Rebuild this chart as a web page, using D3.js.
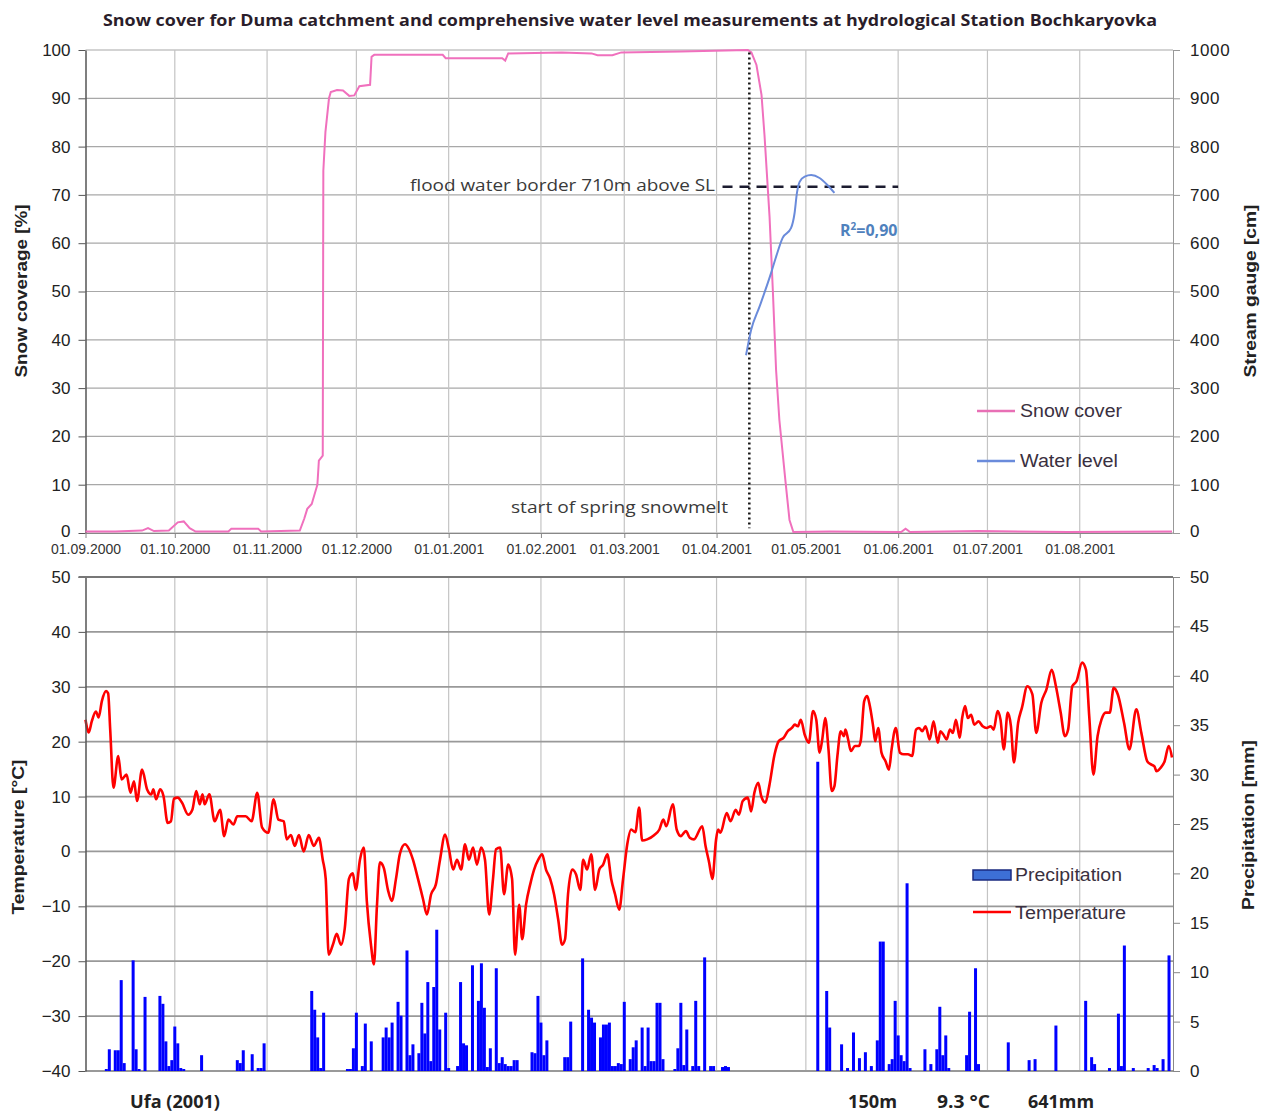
<!DOCTYPE html>
<html><head><meta charset="utf-8">
<script src="https://cdn.jsdelivr.net/npm/d3@7"></script>
<style>
body{margin:0;background:#fff}
svg text{font-family:"Liberation Sans",Arial,sans-serif}
</style>
</head><body>
<svg id="c" width="1269" height="1112"></svg>
<script>
// ---------------- DATA ----------------
const titleText = "Snow cover for Duma catchment and comprehensive water level measurements at hydrological Station Bochkaryovka";
const monthTicks = ["2000-09-01","2000-10-01","2000-11-01","2000-12-01","2001-01-01","2001-02-01","2001-03-01","2001-04-01","2001-05-01","2001-06-01","2001-07-01","2001-08-01"];
const monthLabels = ["01.09.2000","01.10.2000","01.11.2000","01.12.2000","01.01.2001","01.02.2001","01.03.2001","01.04.2001","01.05.2001","01.06.2001","01.07.2001","01.08.2001"];
const snowTicks = [0,10,20,30,40,50,60,70,80,90,100];
const gaugeTicks = [0,100,200,300,400,500,600,700,800,900,1000];
const tempTicks = [-40,-30,-20,-10,0,10,20,30,40,50];
const precipTicks = [0,5,10,15,20,25,30,35,40,45,50];

// day = days since 01.09.2000
const snowDay = [0,10,19,21,23,28,31,33,35,37,48,49,58,59,72,73.5,74.5,76,77.9,78.4,79.7,79.9,80.6,81.8,82.4,84.5,86.5,88.6,90.3,92.0,95.6,96.1,97,110,120,121,140,141,142,160,170,172,177,180,200,222.5,223.7,225.4,227.1,228.1,229.8,230.9,232.0,233.1,235.1,236.5,237.8,250,274,275.5,277,300,330,365];
const snowCover = [0.3,0.3,0.5,1.0,0.4,0.5,2.2,2.4,1.0,0.3,0.3,0.9,0.9,0.3,0.5,3.0,5.0,6.0,10,15,16,75,83,90,91.3,91.7,91.6,90.5,90.6,92.5,92.8,98.6,99.0,99.0,99.0,98.3,98.3,97.8,99.3,99.5,99.3,98.9,98.9,99.5,99.7,100,99.5,96.9,90.7,82.4,65.5,50.3,33.7,23.4,11,2.7,0.2,0.3,0.2,0.9,0.2,0.4,0.2,0.3];

const waterDay = [221.9,223.6,226.4,230.3,232.0,234.2,237.0,238.2,239.0,239.9,241.6,243.8,246.6,249.3,251.6];
const waterLevel = [368,420,468,538,572,611,631,662,704,727,738,741,735,720,704];

const tempDay = [0,1.1,2.1,3.5,4.4,5.5,6.9,7.6,8.3,9.4,11.0,12.1,13.8,15.1,16.3,17.3,19.0,20.7,22.1,22.8,23.7,25.1,26.2,27.6,28.7,29.7,31.0,32.4,34.5,35.9,37.2,38.4,39.3,40.0,41.6,43.4,45.2,46.6,48.0,49.7,51.0,53.8,55.8,57.7,59.3,61.4,63.2,64.8,66.6,67.6,
69.0,70.3,71.7,73.3,75.0,76.7,78.4,79.7,80.7,81.7,83.1,84.4,85.8,87.1,88.5,89.8,90.8,92.2,93.5,94.5,95.9,96.9,97.9,98.9,100.2,101.6,102.9,104.3,105.6,107.3,108.7,110.0,111.7,113.4,114.7,116.1,117.7,119.1,120.8,122.1,123.5,124.8,126.2,127.5,128.8,130.2,131.5,132.9,134.2,135.6,136.9,137.9,139.3,140.6,142.0,143.3,144.3,145.7,146.7,148.0,149.4,150.7,152.1,153.4,154.7,156.1,157.4,158.8,160.1,161.1,162.1,163.5,164.8,166.2,167.2,168.5,169.9,171.2,172.6,173.9,175.3,176.6,177.9,179.3,180.6,182.0,183.3,184.7,186.0,187.0,
188.7,191.1,192.8,194.1,195.1,197.3,198.6,200.0,201.7,203.0,204.4,207.2,208.3,209.5,210.6,211.8,212.5,213.3,215.4,216.7,218.4,219.5,220.8,222.5,223.6,224.7,226.0,227.0,228.4,229.7,231.5,232.9,234.5,235.9,237.3,238.3,239.3,240.3,241.6,243.0,244.4,245.5,246.6,247.5,248.5,249.6,250.7,251.6,252.6,253.7,254.8,255.3,256.2,257.1,258.5,259.8,260.5,261.6,262.6,263.5,264.6,265.3,266.3,267.4,268.8,269.9,270.8,272.2,273.6,274.9,276.3,277.7,279.0,280.0,281.1,282.2,283.6,284.9,286.3,287.2,288.2,289.3,290.4,291.4,292.4,293.7,294.5,295.5,296.4,297.5,298.6,300.0,301.4,302.7,304.1,305.1,306.4,307.4,308.5,309.8,310.9,311.9,313.3,314.6,316.4,318.1,319.4,321.1,322.8,324.6,326.0,327.6,329.0,330.1,331.5,332.9,334.8,336.1,337.2,338.6,340.0,341.3,342.7,344.1,345.4,346.8,348.9,350.7,353.0,354.7,356.7,357.8,359.1,359.8,361.1,362.5,363.9,365.0];
const tempValue = [24.0,21.7,23.7,25.5,24.4,27.4,29.2,28.8,22.2,11.6,17.4,13.1,14.0,10.7,12.8,9.2,14.9,11.3,10.4,11.3,9.5,11.3,10.1,5.2,5.5,9.6,9.8,8.9,6.7,7.6,11.0,8.6,10.4,8.6,10.4,5.5,7.6,2.8,5.8,4.9,6.4,6.4,5.5,10.7,4.4,3.4,9.5,5.8,5.5,2.2,
3.0,1.0,3.0,0.0,3.0,1.0,2.5,-1.5,-5.0,-18.8,-17.0,-15.0,-17.0,-14.0,-5.0,-4.0,-7.0,-1.5,0.7,-9.0,-17.0,-20.6,-10.0,-2.0,-3.0,-7.0,-9.0,-5.0,-0.5,1.3,0.4,-1.5,-5.0,-8.7,-11.5,-7.8,-6.0,-1.5,3.1,0.4,-3.3,-1.5,-3.3,1.3,-1.5,0.7,-2.4,0.7,-1.5,-11.5,-5.0,0.4,0.7,-7.8,-2.4,-5.0,-18.8,-9.7,-16.0,-9.7,-6.0,-3.3,-1.5,-0.5,-3.3,-5.0,-7.8,-12.4,-17.0,-16.0,-7.8,-3.3,-4.2,-7.0,-1.5,-3.3,-0.5,-7.0,-3.3,-2.4,-0.5,-5.0,-7.8,-10.6,-5.0,1.3,4.0,3.5,8.0,2.0,
2.2,3.0,4.0,5.8,4.6,8.6,4.0,2.8,3.7,2.5,2.2,4.6,1.0,-2.0,-5.0,2.0,4.0,3.4,7.0,5.5,7.6,6.7,9.2,9.8,7.3,10.7,12.5,10.1,8.9,11.9,17.7,20.1,20.7,21.9,22.5,23.1,22.8,24.0,21.3,19.8,25.6,24.0,18.0,20.4,24.3,18.6,11.0,11.9,17.4,21.9,21.0,22.2,20.4,18.3,19.2,19.2,20.4,27.4,28.3,26.5,22.8,20.1,22.5,18.0,16.4,14.9,18.6,22.5,18.0,17.7,17.7,17.4,22.2,22.5,21.9,22.8,20.4,23.7,19.8,21.9,21.3,20.4,22.2,21.6,24.0,20.7,24.3,26.5,24.3,24.9,23.1,23.7,22.8,22.5,22.8,22.2,25.6,24.0,18.6,25.3,22.8,16.2,23.4,26.2,30.1,28.6,21.6,27.1,29.5,33.1,30.1,25.3,21.0,22.2,30.1,31.0,34.4,33.1,24.6,14.0,21.0,24.0,25.3,25.3,29.8,28.6,23.4,18.6,25.9,21.6,16.4,15.9,15.5,14.6,15.2,16.4,19.2,17.1];

const precipDay = [7,8,10,11,12,13,16,17,18,20,25,26,27,28,29,30,31,32,33,39,51,52,53,56,58,59,60,76,77,78,79,80,88,89,90,91,93,94,96,100,101,102,103,105,106,108,109,110,112,113,114,115,116,117,118,119,121,122,125,126,127,128,130,132,133,134,135,136,138,139,140,141,142,143,144,145,150,151,152,153,154,155,161,162,163,167,169,170,171,173,174,175,176,177,178,179,180,181,183,184,185,187,188,189,190,191,192,193,194,198,199,200,201,202,204,205,206,208,210,211,214,215,216,246,249,250,254,256,258,260,262,264,266,267,268,270,271,272,273,274,275,276,277,282,284,286,287,288,289,290,296,297,299,300,310,317,319,326,336,338,339,344,347,348,349,352,357,359,360,362,364];
const precipValue = [0.2,2.2,2.1,2.1,9.2,0.8,11.2,2.2,0.2,7.5,7.6,6.8,3.0,0.5,1.1,4.5,2.8,0.3,0.2,1.6,1.1,0.8,2.1,1.7,0.3,0.3,2.8,8.1,6.2,3.4,0.3,5.9,0.2,0.2,2.3,5.9,0.5,4.8,3.0,3.4,4.4,3.4,4.9,7.0,5.6,12.2,1.6,2.7,1.8,6.9,3.8,9.0,1.0,8.5,14.3,4.2,5.9,0.3,0.5,9.0,2.8,2.6,10.7,7.1,10.9,6.4,0.4,2.3,10.4,0.8,1.4,0.7,0.5,0.5,1.1,1.1,1.9,1.8,7.6,4.9,1.6,3.1,1.4,1.4,5.0,11.4,6.2,5.4,4.9,3.4,4.7,4.7,4.9,0.5,0.5,0.8,0.7,7.0,1.2,2.4,3.1,4.4,0.5,4.4,1.0,1.0,6.9,6.9,1.2,0.2,2.3,6.9,0.6,4.2,0.5,7.1,0.5,11.5,0.5,0.5,0.4,0.5,0.4,31.3,8.1,4.4,2.7,0.3,3.9,1.3,1.9,0.5,3.1,13.1,13.1,0.7,1.2,7.1,3.6,1.6,1.0,19.0,0.3,2.2,0.7,2.2,6.5,1.6,3.6,0.3,1.6,6.0,10.4,0.7,2.9,1.1,1.2,4.6,7.1,1.4,0.7,0.3,5.8,0.5,12.7,0.3,0.3,0.6,0.3,1.2,11.7];

const floodLevel = 717, floodStart = "2001-04-03", floodEnd = "2001-06-01";
const snowmeltStart = "2001-04-12";
const floodLabel = "flood water border 710m above SL";
const snowmeltLabel = "start of spring snowmelt";
const r2Label = "0,90";
const stationLabel = "Ufa (2001)";
const statLabels = ["150m","9.3 °C","641mm"];

// ---------------- CHART ----------------
const svg = d3.select("#c");
const parse = d3.utcParse("%Y-%m-%d");
const t0 = Date.UTC(2000,8,1);
const dayDate = d => new Date(t0 + d*864e5);
const monthDates = monthTicks.map(parse);

const L = 85.5, R = 1173;
const x = d3.scaleUtc().domain([parse("2000-09-01"), parse("2001-09-01")]).range([L, 1172]);
const ySnow = d3.scaleLinear().domain([0,100]).range([533,50]);
const yGauge = d3.scaleLinear().domain([0,1000]).range([533,50]);
const yTemp = d3.scaleLinear().domain([-40,50]).range([1071,577]);
const yPrec = d3.scaleLinear().domain([0,50]).range([1071,577]);

// title
svg.append("text").attr("x",630).attr("y",26).attr("text-anchor","middle")
  .style("font-family","'Open Sans',sans-serif").style("font-weight","700").style("font-size","16.5px")
  .attr("fill","#2a1d2a").attr("textLength",1054).attr("lengthAdjust","spacingAndGlyphs").text(titleText);

// ---- top panel grid
const gTop = svg.append("g");
gTop.selectAll(".hg").data(snowTicks).join("line")
  .attr("x1",L).attr("x2",R).attr("y1",d=>ySnow(d)).attr("y2",d=>ySnow(d))
  .attr("stroke","#a8a8a8").attr("stroke-width",1.2);
gTop.selectAll(".vg").data(monthDates.slice(1)).join("line")
  .attr("x1",d=>x(d)).attr("x2",d=>x(d)).attr("y1",50).attr("y2",533)
  .attr("stroke","#c4c4c4").attr("stroke-width",1.2);

function styleAxis(g, size, col){
  g.selectAll(".tick text").style("font-size",size).attr("fill","#222");
  g.selectAll(".tick line").attr("stroke",col);
  g.select(".domain").attr("stroke",col);
}
const axL = svg.append("g").attr("transform",`translate(${L},0)`)
  .call(d3.axisLeft(ySnow).tickValues(snowTicks).tickSize(7).tickSizeOuter(0).tickPadding(8));
styleAxis(axL,"17px","#555"); axL.select(".domain").attr("stroke-width",1.5);
axL.selectAll(".tick text").filter(d=>d===0).attr("dy","0.18em");
const axR = svg.append("g").attr("transform",`translate(${R},0)`)
  .call(d3.axisRight(yGauge).tickValues(gaugeTicks).tickFormat(d3.format("d")).tickSize(7).tickSizeOuter(0).tickPadding(10));
styleAxis(axR,"17px","#999");
axR.selectAll(".tick text").attr("letter-spacing","0.6px");
axR.selectAll(".tick text").filter(d=>d===0).attr("dy","0.18em");
const axB = svg.append("g").attr("transform","translate(0,533)")
  .call(d3.axisBottom(x).tickValues(monthDates).tickFormat((d,i)=>monthLabels[i]).tickSize(5).tickSizeOuter(0).tickPadding(6));
styleAxis(axB,"14px","#888");
axB.selectAll(".tick text").attr("fill","#333");

// axis titles top
svg.append("text").attr("transform","translate(21,291) rotate(-90)").attr("text-anchor","middle")
  .attr("dominant-baseline","central").style("font-weight","700").style("font-size","16px").attr("fill","#222")
  .attr("textLength",173).attr("lengthAdjust","spacingAndGlyphs").text("Snow coverage [%]");
svg.append("text").attr("transform","translate(1250,291) rotate(-90)").attr("text-anchor","middle")
  .attr("dominant-baseline","central").style("font-weight","700").style("font-size","16px").attr("fill","#222")
  .attr("textLength",173).attr("lengthAdjust","spacingAndGlyphs").text("Stream gauge [cm]");

// snow line
const snowData = snowDay.map((d,i)=>({d, v:snowCover[i]}));
svg.append("path").datum(snowData)
  .attr("d", d3.line().x(p=>x(dayDate(p.d))).y(p=>ySnow(p.v)))
  .attr("fill","none").attr("stroke","#f070bd").attr("stroke-width",2);

// snowmelt dotted line
const xm = x(parse(snowmeltStart));
svg.append("line").attr("x1",xm).attr("x2",xm).attr("y1",ySnow(99.5)).attr("y2",ySnow(1))
  .attr("stroke","#111").attr("stroke-width",2.5).attr("stroke-dasharray","2,3");

// flood dashed line
svg.append("line").attr("x1",x(parse(floodStart))).attr("x2",x(parse(floodEnd)))
  .attr("y1",yGauge(floodLevel)).attr("y2",yGauge(floodLevel))
  .attr("stroke","#1c1c30").attr("stroke-width",2.5).attr("stroke-dasharray","10,7");

// water level
const waterData = waterDay.map((d,i)=>({d, v:waterLevel[i]}));
svg.append("path").datum(waterData)
  .attr("d", d3.line().curve(d3.curveMonotoneX).x(p=>x(dayDate(p.d))).y(p=>yGauge(p.v)))
  .attr("fill","none").attr("stroke","#6a8bdb").attr("stroke-width",2);

// annotations
svg.append("text").attr("x",715).attr("y",191).attr("text-anchor","end")
  .style("font-family","'Open Sans',sans-serif").style("font-size","16px").attr("fill","#3a3a3a")
  .attr("textLength",305).attr("lengthAdjust","spacingAndGlyphs").text(floodLabel);
svg.append("text").attr("x",728).attr("y",513).attr("text-anchor","end")
  .style("font-family","'Open Sans',sans-serif").style("font-size","16px").attr("fill","#3a3a3a")
  .attr("textLength",217).attr("lengthAdjust","spacingAndGlyphs").text(snowmeltLabel);
const r2 = svg.append("text").attr("x",840).attr("y",236)
  .style("font-family","'Open Sans',sans-serif").style("font-weight","700").style("font-size","16px").attr("fill","#4f81bd");
r2.append("tspan").text("R");
r2.append("tspan").attr("dy",-6).style("font-size","10px").text("2");
r2.append("tspan").attr("dy",6).text("=" + r2Label);

// top legend
const legTop = [{t:"Snow cover", c:"#e86fb5", y:411, w:102},{t:"Water level", c:"#6a8bdb", y:461, w:98}];
legTop.forEach(l=>{
  svg.append("line").attr("x1",977).attr("x2",1015).attr("y1",l.y).attr("y2",l.y).attr("stroke",l.c).attr("stroke-width",2.5);
  svg.append("text").attr("x",1020).attr("y",l.y).attr("dominant-baseline","central")
    .style("font-size","17.5px").attr("fill","#3a3040")
    .attr("textLength",l.w).attr("lengthAdjust","spacingAndGlyphs").text(l.t);
});

// ---- bottom panel grid
const gBot = svg.append("g");
gBot.selectAll(".vg").data(monthDates.slice(1)).join("line")
  .attr("x1",d=>x(d)).attr("x2",d=>x(d)).attr("y1",577).attr("y2",1071)
  .attr("stroke","#c4c4c4").attr("stroke-width",1.2);
gBot.selectAll(".hg").data(tempTicks).join("line")
  .attr("x1",L).attr("x2",R).attr("y1",d=>yTemp(d)).attr("y2",d=>yTemp(d))
  .attr("stroke","#999").attr("stroke-width",1.8);

// precipitation bars
const precData = precipDay.map((d,i)=>({d, v:precipValue[i]}));
svg.append("g").selectAll("rect").data(precData).join("rect")
  .attr("x",p=>x(dayDate(p.d))-1.5).attr("width",3)
  .attr("y",p=>yPrec(p.v)).attr("height",p=>yPrec(0)-yPrec(p.v))
  .attr("fill","#0000ff");

// temperature line
const tempData = tempDay.map((d,i)=>({d, v:tempValue[i]}));
svg.append("path").datum(tempData)
  .attr("d", d3.line().curve(d3.curveMonotoneX).x(p=>x(dayDate(p.d))).y(p=>yTemp(p.v)))
  .attr("fill","none").attr("stroke","#ff0000").attr("stroke-width",2.6).attr("stroke-linejoin","round");

const bL = svg.append("g").attr("transform",`translate(${L},0)`)
  .call(d3.axisLeft(yTemp).tickValues(tempTicks).tickSize(7).tickSizeOuter(0).tickPadding(8));
styleAxis(bL,"17px","#555"); bL.select(".domain").attr("stroke-width",1.5);
const bR = svg.append("g").attr("transform",`translate(${R},0)`)
  .call(d3.axisRight(yPrec).tickValues(precipTicks).tickSize(7).tickSizeOuter(0).tickPadding(10));
styleAxis(bR,"17px","#888");
svg.append("line").attr("x1",L-7).attr("x2",R).attr("y1",577).attr("y2",577).attr("stroke","#777").attr("stroke-width",2);

svg.append("text").attr("transform","translate(18,837) rotate(-90)").attr("text-anchor","middle")
  .attr("dominant-baseline","central").style("font-weight","700").style("font-size","16px").attr("fill","#222")
  .attr("textLength",155).attr("lengthAdjust","spacingAndGlyphs").text("Temperature [°C]");
svg.append("text").attr("transform","translate(1248,825) rotate(-90)").attr("text-anchor","middle")
  .attr("dominant-baseline","central").style("font-weight","700").style("font-size","16px").attr("fill","#222")
  .attr("textLength",170).attr("lengthAdjust","spacingAndGlyphs").text("Precipitation [mm]");

// bottom legend
svg.append("rect").attr("x",973).attr("y",870).attr("width",38).attr("height",10)
  .attr("fill","#3d6fd6").attr("stroke","#1a2a80").attr("stroke-width",1.5);
svg.append("text").attr("x",1015).attr("y",875).attr("dominant-baseline","central")
  .style("font-size","17.5px").attr("fill","#3a3040").attr("textLength",107).attr("lengthAdjust","spacingAndGlyphs").text("Precipitation");
svg.append("line").attr("x1",973).attr("x2",1011).attr("y1",912).attr("y2",912).attr("stroke","#ff0000").attr("stroke-width",2.5);
svg.append("text").attr("x",1015).attr("y",913).attr("dominant-baseline","central")
  .style("font-size","17.5px").attr("fill","#3a3040").attr("textLength",111).attr("lengthAdjust","spacingAndGlyphs").text("Temperature");

// footer labels
const foot = [{t:stationLabel,x:130,w:90},{t:statLabels[0],x:848,w:49},{t:statLabels[1],x:937,w:53},{t:statLabels[2],x:1028,w:66}];
foot.forEach(f=>svg.append("text").attr("x",f.x).attr("y",1108)
  .style("font-family","'Open Sans',sans-serif").style("font-weight","700").style("font-size","17.5px")
  .attr("fill","#222").attr("textLength",f.w).attr("lengthAdjust","spacingAndGlyphs").text(f.t));
</script>
</body></html>
